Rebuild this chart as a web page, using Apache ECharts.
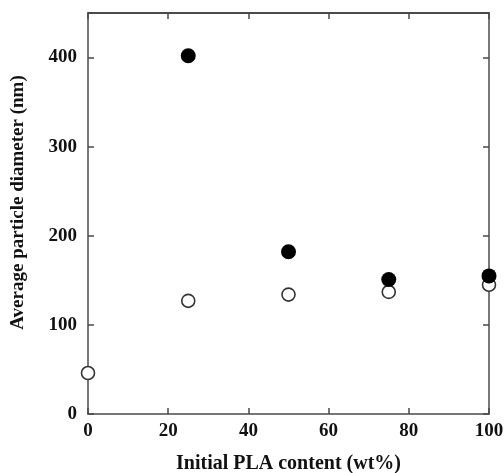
<!DOCTYPE html>
<html><head><meta charset="utf-8">
<script src="https://cdn.jsdelivr.net/npm/echarts@6/dist/echarts.min.js"></script>
<style>html,body{margin:0;padding:0;background:#fff}#c{width:504px;height:473px}</style>
</head><body><div id="c"></div>
<script>
const plaContent = [0, 25, 50, 75, 100];
const filledDiameter = [null, 402, 182, 151, 155];
const openDiameter = [46, 127, 134, 137, 145];
const xTicks = [0, 20, 40, 60, 80, 100];
const yTicks = [0, 100, 200, 300, 400];

const toPairs = (xs, ys) => xs.map((x, i) => [x, ys[i]]).filter(p => p[1] !== null);
const font = '"Liberation Serif", "DejaVu Serif", serif';
const axisCol = '#4a4a4a';

const chart = echarts.init(document.getElementById('c'), null, {renderer: 'canvas'});
chart.setOption({
  animation: false,
  grid: {left: 88, right: 15, top: 13, bottom: 59, show: false, containLabel: false, outerBoundsMode: 'none'},
  xAxis: [{
    type: 'value', min: 0, max: 100, interval: 20,
    name: 'Initial PLA content (wt%)', nameLocation: 'middle', nameGap: 40,
    nameTextStyle: {fontFamily: font, fontWeight: 'bold', fontSize: 20, color: '#111'},
    axisLine: {show: true, onZero: false, lineStyle: {color: axisCol, width: 1.5}},
    axisTick: {show: true, inside: true, length: 6, lineStyle: {color: axisCol, width: 1.5}},
    axisLabel: {fontFamily: font, fontWeight: 'bold', fontSize: 19, color: '#111', margin: 8,
      hideOverlap: false,
      formatter: v => xTicks.includes(v) ? String(v) : ''},
    splitLine: {show: false}
  }, {
    type: 'value', min: 0, max: 100, interval: 20, position: 'top',
    axisLine: {show: true, onZero: false, lineStyle: {color: '#111', width: 1.5}},
    axisTick: {show: true, inside: true, length: 6, lineStyle: {color: axisCol, width: 1.5}},
    axisLabel: {show: false}, splitLine: {show: false}
  }],
  yAxis: [{
    type: 'value', min: 0, max: 450, interval: 100,
    name: 'Average particle diameter (nm)', nameLocation: 'middle', nameGap: 60,
    nameTextStyle: {fontFamily: font, fontWeight: 'bold', fontSize: 19, color: '#111', padding: [0, 0, 0, 22]},
    axisLine: {show: true, onZero: false, lineStyle: {color: axisCol, width: 1.5}},
    axisTick: {show: true, inside: true, length: 6, lineStyle: {color: axisCol, width: 1.5}},
    axisLabel: {fontFamily: font, fontWeight: 'bold', fontSize: 19, color: '#111', margin: 11,
      formatter: v => yTicks.includes(v) ? String(v) : ''},
    splitLine: {show: false}
  }, {
    type: 'value', min: 0, max: 450, interval: 100, position: 'right',
    axisLine: {show: true, onZero: false, lineStyle: {color: axisCol, width: 1.5}},
    axisTick: {show: true, inside: true, length: 6, lineStyle: {color: axisCol, width: 1.5}},
    axisLabel: {show: false}, splitLine: {show: false}
  }],
  series: [{
    type: 'scatter', symbol: 'circle', symbolSize: 13,
    data: toPairs(plaContent, openDiameter),
    itemStyle: {color: '#fff', borderColor: '#333', borderWidth: 1.6, opacity: 1},
    clip: false, z: 3
  }, {
    type: 'scatter', symbol: 'circle', symbolSize: 15,
    data: toPairs(plaContent, filledDiameter),
    itemStyle: {color: '#000', borderColor: '#000', borderWidth: 0, opacity: 1},
    clip: false, z: 4
  }]
});
</script></body></html>
